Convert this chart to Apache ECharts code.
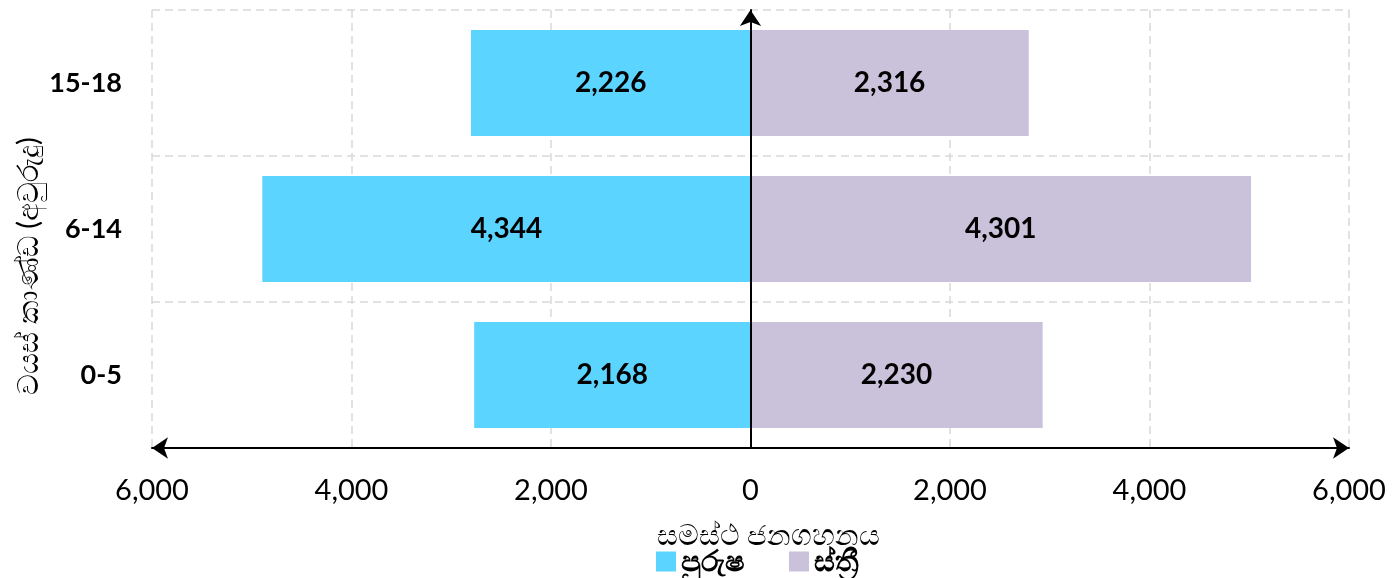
<!DOCTYPE html>
<html>
<head>
<meta charset="utf-8">
<script src="https://cdn.jsdelivr.net/npm/echarts@6/dist/echarts.min.js"></script>
<style>html,body{margin:0;padding:0;background:#fff}#c{width:1399px;height:578px}</style>
</head>
<body>
<div id="c"></div>
<script>
const categories = ['0-5', '6-14', '15-18'];
const maleBar = [2770, 4894, 2802];
const femaleBar = [2929, 5018, 2789];
const maleLabels = [2168, 4344, 2226];
const femaleLabels = [2230, 4301, 2316];
const xTicks = [-6000, 6000, 2000];
const seriesNames = ['පුරුෂ', 'ස්ත්‍රී'];
const yTitle = 'වයස් කාණ්ඩ (අවුරුදු)';
const xTitle = 'සමස්ථ ජනගහනය';

const FONT = 'Lato, "Open Sans", sans-serif';
const fmt = v => Math.abs(v).toLocaleString('en-US');
const chart = echarts.init(document.getElementById('c'));
chart.setOption({
  animation: false,
  textStyle: { fontFamily: FONT },
  grid: { left: 152, right: 50, top: 10, bottom: 130 },
  legend: {
    data: seriesNames,
    top: 542, left: 651,
    icon: 'rect', itemWidth: 20, itemHeight: 20, itemGap: 44,
    textStyle: { fontSize: 29, fontWeight: 'bold', color: '#000', fontFamily: FONT }
  },
  graphic: [{
    type: 'text', x: 14, y: 266, rotation: Math.PI / 2,
    style: { text: yTitle, fontSize: 29, fill: '#000', align: 'center', verticalAlign: 'top', fontFamily: FONT }
  }],
  xAxis: {
    type: 'value', min: xTicks[0], max: xTicks[1], interval: xTicks[2],
    name: xTitle, nameLocation: 'middle', nameGap: 73,
    nameTextStyle: { fontSize: 29, color: '#000', fontFamily: FONT, padding: [0, 0, 0, 36] },
    axisLine: { show: true, onZero: false, symbol: ['arrow', 'arrow'], symbolSize: [16, 16],
      lineStyle: { color: '#000', width: 2 } },
    axisTick: { show: false },
    axisLabel: { formatter: fmt, fontSize: 29, color: '#000', margin: 28, fontFamily: FONT },
    splitLine: { show: true, lineStyle: { color: '#d9d9d9', type: [8, 5], width: 1.5 } }
  },
  yAxis: [{
    type: 'category', data: categories, position: 'left',
    axisLine: { show: false, onZero: false }, axisTick: { show: false },
    axisLabel: { fontSize: 27, fontWeight: 'bold', color: '#000', margin: 30, fontFamily: FONT },
    splitLine: { show: true, lineStyle: { color: '#d9d9d9', type: [8, 5], width: 1.5 } }
  }, {
    type: 'category', data: categories, position: 'left', z: 10,
    axisLine: { show: true, onZero: true, symbol: ['none', 'arrow'], symbolSize: [16, 16],
      lineStyle: { color: '#000', width: 2 } },
    axisTick: { show: false }, axisLabel: { show: false }, splitLine: { show: false }
  }],
  series: [{
    name: seriesNames[0], type: 'bar', stack: 'p', barWidth: 106,
    data: maleBar.map(v => -v),
    itemStyle: { color: '#5BD4FF' },
    label: { show: true, position: 'inside', fontSize: 28, fontWeight: 'bold', color: '#000',
      fontFamily: FONT, formatter: p => fmt(maleLabels[p.dataIndex]) },
    z: 1
  }, {
    name: seriesNames[1], type: 'bar', stack: 'p', barWidth: 106,
    data: femaleBar,
    itemStyle: { color: '#CAC1DA' },
    label: { show: true, position: 'inside', fontSize: 28, fontWeight: 'bold', color: '#000',
      fontFamily: FONT, formatter: p => fmt(femaleLabels[p.dataIndex]) },
    z: 1
  }]
});
</script>
</body>
</html>
